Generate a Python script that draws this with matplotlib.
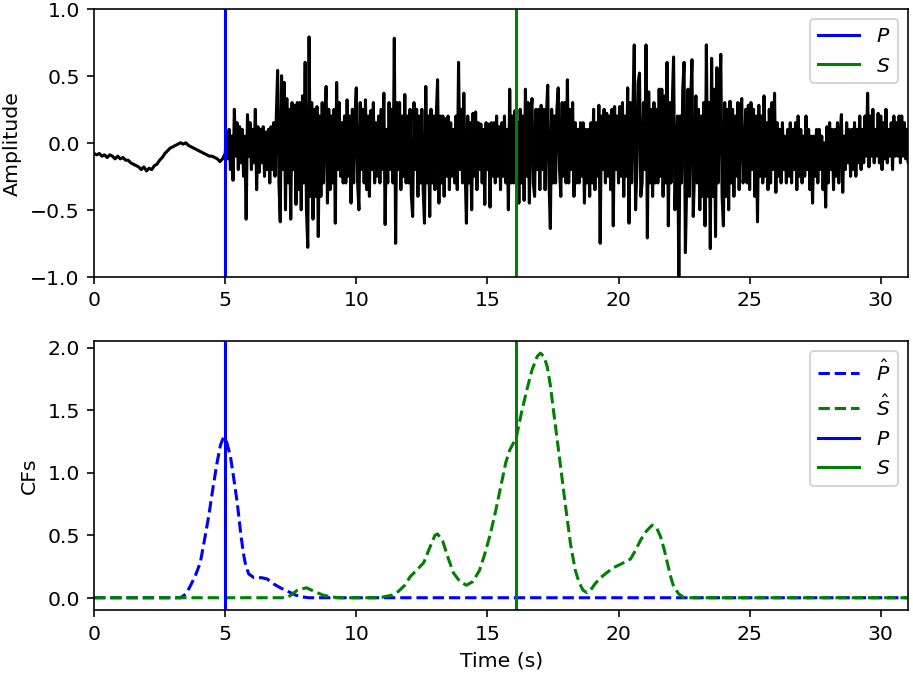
import numpy as np
import matplotlib
matplotlib.use("Agg")
import matplotlib.pyplot as plt

plt.rcParams['font.family'] = ['DejaVu Sans']

# ---- data ----
pre_dt = 0.1    # spacing of hand-read pre-event samples (s)
post_dt = 0.05  # spacing of hand-read post-event samples (s)
post_start = 5.0

pre_event = [
    -0.08, -0.09, -0.08, -0.10, -0.09, -0.11, -0.09, -0.10, -0.12, -0.10,
    -0.12, -0.11, -0.13, -0.13, -0.15, -0.16, -0.17, -0.18, -0.20, -0.18,
    -0.21, -0.19, -0.20, -0.17, -0.16, -0.13, -0.11, -0.08, -0.06, -0.04,
    -0.03, -0.02, -0.01, 0.00, -0.01, 0.00, -0.02, -0.03, -0.04, -0.05,
    -0.06, -0.07, -0.08, -0.09, -0.10, -0.10, -0.11, -0.12, -0.14, -0.12,
]
post_event = [
    # 5 s
    -0.08, 0.05, -0.12, 0.10, -0.20, 0.05, -0.28, 0.25, -0.10, 0.15, -0.20, 0.12, -0.15, 0.10, -0.25, 0.05, -0.57, 0.21, -0.10, 0.15,
    # 6 s
    -0.20, 0.10, -0.15, 0.25, -0.35, 0.12, -0.22, 0.10, -0.15, 0.12, -0.25, 0.08, -0.20, 0.10, -0.30, 0.12, -0.20, 0.15, -0.25, 0.20,
    # 7 s
    0.54, -0.30, -0.59, 0.50, -0.20, 0.45, -0.50, 0.33, -0.30, 0.25, -0.57, 0.30, -0.20, 0.28, -0.46, 0.30, -0.35, 0.30, -0.50, 0.35,
    # 8 s
    -0.30, 0.60, -0.50, -0.78, 0.79, -0.40, 0.30, -0.57, 0.25, -0.40, 0.27, -0.70, 0.20, -0.40, 0.30, -0.30, 0.20, 0.42, -0.45, 0.25,
    # 9 s
    -0.35, 0.20, -0.30, 0.25, -0.60, 0.45, -0.20, 0.30, -0.25, 0.15, -0.30, 0.20, -0.30, 0.32, -0.25, 0.20, -0.45, 0.25, -0.30, 0.20,
    # 10 s
    0.41, -0.30, -0.50, 0.30, -0.20, 0.25, -0.30, 0.32, -0.35, 0.20, -0.40, 0.24, -0.20, 0.30, -0.30, 0.15, -0.25, 0.20, -0.30, 0.25,
    # 11 s
    -0.20, 0.37, -0.61, 0.10, -0.30, 0.30, -0.20, 0.25, -0.30, 0.78, -0.75, 0.30, -0.20, 0.30, -0.35, 0.20, -0.25, 0.36, -0.30, 0.20,
    # 12 s
    -0.30, 0.25, -0.40, -0.55, 0.30, -0.20, 0.25, -0.40, 0.20, -0.30, 0.25, -0.35, -0.60, 0.42, -0.30, 0.20, -0.55, 0.25, -0.30, 0.20,
    # 13 s
    -0.35, 0.20, 0.47, -0.45, 0.20, -0.30, 0.20, -0.40, 0.18, -0.25, 0.20, -0.35, 0.15, -0.25, 0.10, -0.30, 0.20, -0.35, 0.60, -0.20,
    # 14 s
    0.25, -0.30, 0.37, -0.20, -0.60, 0.20, -0.30, 0.15, -0.50, 0.22, -0.25, 0.23, -0.35, 0.15, -0.20, 0.14, -0.30, 0.10, -0.46, 0.15,
    # 15 s
    -0.20, 0.14, -0.48, 0.15, -0.25, 0.15, -0.30, 0.20, -0.25, 0.12, -0.35, 0.15, -0.25, 0.20, -0.30, 0.10, -0.50, 0.40, -0.30, 0.20,
    # 16 s
    -0.30, 0.24, -0.20, 0.15, -0.45, 0.25, -0.30, 0.20, -0.43, 0.40, -0.25, 0.30, -0.45, 0.20, 0.33, -0.30, -0.40, 0.25, -0.20, 0.25,
    # 17 s
    -0.35, 0.28, -0.20, 0.25, -0.35, 0.20, 0.43, -0.30, -0.64, 0.25, -0.30, 0.20, -0.30, 0.25, 0.41, -0.20, -0.40, 0.30, -0.25, 0.30,
    # 18 s
    -0.30, 0.47, -0.30, 0.25, -0.20, 0.30, -0.40, 0.15, -0.30, 0.10, -0.30, 0.15, -0.25, 0.15, -0.45, 0.10, -0.30, 0.10, -0.40, 0.15,
    # 19 s
    -0.30, 0.25, -0.35, 0.15, -0.25, 0.28, -0.75, 0.20, -0.20, 0.25, -0.30, 0.22, -0.25, 0.20, -0.35, 0.25, -0.62, 0.27, -0.20, 0.20,
    # 20 s
    -0.30, 0.27, -0.25, 0.30, -0.40, 0.20, -0.25, 0.41, -0.60, 0.30, -0.30, 0.25, 0.73, -0.50, -0.20, 0.45, 0.52, -0.40, -0.30, 0.30,
    # 21 s
    -0.20, 0.73, -0.71, 0.38, -0.30, 0.25, -0.40, 0.30, -0.30, 0.25, -0.30, 0.40, -0.25, 0.40, -0.40, 0.35, -0.30, 0.60, -0.62, 0.30,
    # 22 s
    -0.30, 0.30, 0.64, -0.50, -0.20, 0.20, -1.05, 0.20, -0.30, 0.40, 0.60, -0.82, -0.30, 0.40, -0.40, 0.30, 0.62, -0.55, -0.20, 0.35,
    # 23 s
    -0.30, 0.25, -0.50, 0.20, -0.40, 0.30, -0.62, 0.73, -0.40, 0.30, -0.79, 0.63, -0.40, 0.40, -0.70, 0.56, -0.30, 0.30, 0.66, -0.40,
    # 24 s
    -0.62, 0.30, -0.40, 0.25, -0.50, 0.31, -0.30, 0.25, -0.40, 0.20, -0.25, 0.30, -0.35, 0.25, 0.33, -0.30, -0.20, 0.25, -0.30, 0.28,
    # 25 s
    -0.35, 0.30, -0.20, 0.25, -0.40, 0.20, -0.59, 0.28, -0.25, 0.20, -0.30, 0.35, -0.25, 0.15, -0.35, 0.25, -0.30, 0.30, -0.20, 0.37,
    # 26 s
    -0.37, 0.15, -0.25, 0.10, -0.30, 0.15, -0.20, 0.05, -0.30, 0.10, -0.25, 0.15, -0.30, 0.10, -0.20, 0.15, -0.35, 0.20, -0.25, 0.10,
    # 27 s
    -0.30, 0.05, -0.25, 0.20, -0.20, 0.10, -0.35, 0.05, -0.45, 0.05, -0.25, 0.10, -0.30, 0.10, -0.20, 0.05, -0.35, 0.00, -0.48, 0.12,
    # 28 s
    -0.30, 0.15, -0.20, 0.10, -0.35, 0.10, -0.25, 0.15, -0.30, 0.05, 0.21, -0.37, 0.05, -0.20, 0.15, -0.15, 0.10, -0.25, 0.10, -0.20,
    # 29 s
    0.15, -0.25, 0.10, -0.15, 0.20, -0.20, 0.10, -0.15, 0.20, -0.10, 0.37, -0.18, 0.20, -0.10, 0.25, -0.15, 0.10, -0.10, 0.22, -0.15,
    # 30 s
    0.20, -0.20, 0.15, -0.12, 0.25, -0.15, 0.10, -0.10, 0.15, -0.20, 0.20, -0.10, 0.15, -0.10, 0.20, -0.15, 0.20, -0.10, 0.15, -0.12,
    # 31 s
    0.10, -0.15, 0.12,
]

p_cf_t = [0.0, 3.3, 3.5, 3.66, 3.85, 4.05, 4.2, 4.37, 4.55, 4.69, 4.82, 4.93, 5.05, 5.2, 5.33, 5.46,
          5.6, 5.7, 5.78, 5.9, 6.1, 6.4, 6.6, 6.85, 7.1, 7.4, 7.7, 8.0, 8.2, 31.1]
p_cf_v = [0.0, 0.0, 0.03, 0.09, 0.17, 0.28, 0.45, 0.65, 0.9, 1.08, 1.22, 1.28, 1.25, 1.13, 0.95, 0.76,
          0.5, 0.35, 0.26, 0.19, 0.16, 0.16, 0.15, 0.11, 0.08, 0.05, 0.02, 0.005, 0.0, 0.0]

s_cf_t = [0.0, 7.36, 7.5, 7.75, 8.1, 8.4, 8.75, 9.1, 9.4, 10.7, 11.0, 11.35, 11.6, 11.85, 12.06, 12.3,
          12.57, 12.8, 13.0, 13.1, 13.3, 13.5, 13.7, 13.95, 14.2, 14.45, 14.7, 14.9, 15.1, 15.3, 15.5,
          15.7, 15.85, 16.0, 16.1, 16.3, 16.5, 16.7, 16.9, 17.02, 17.15, 17.28, 17.4, 17.53, 17.7,
          17.85, 18.0, 18.17, 18.35, 18.5, 18.65, 18.8, 18.93, 19.1, 19.31, 19.55, 19.8, 20.1, 20.46,
          20.65, 20.84, 21.05, 21.28, 21.45, 21.6, 21.75, 21.86, 22.0, 22.1, 22.3, 22.5, 31.1]
s_cf_v = [0.0, 0.0, 0.02, 0.06, 0.08, 0.05, 0.02, 0.005, 0.0, 0.0, 0.005, 0.02, 0.05, 0.1, 0.17, 0.22,
          0.28, 0.4, 0.5, 0.51, 0.45, 0.32, 0.2, 0.13, 0.1, 0.13, 0.22, 0.35, 0.5, 0.68, 0.88,
          1.08, 1.18, 1.24, 1.28, 1.48, 1.66, 1.82, 1.93, 1.956, 1.93, 1.85, 1.7, 1.48, 1.2,
          0.95, 0.7, 0.43, 0.22, 0.12, 0.06, 0.04, 0.06, 0.11, 0.16, 0.2, 0.24, 0.27, 0.31,
          0.38, 0.46, 0.53, 0.58, 0.56, 0.49, 0.38, 0.28, 0.16, 0.09, 0.03, 0.0, 0.0]

p_pick = 5.0
s_pick = 16.1
x_max = 31.05

# ---- plot ----
t_pre = np.arange(len(pre_event)) * pre_dt
t_post = post_start + np.arange(len(post_event)) * post_dt
t = np.concatenate([t_pre, t_post])
amp = np.array(pre_event + post_event)

DPI = 147
fig = plt.figure(figsize=(913.3 / DPI, 673.3 / DPI), dpi=DPI)
ax1 = fig.add_axes([0.103, 0.5884, 0.8915, 0.3982])
ax2 = fig.add_axes([0.103, 0.0936, 0.8915, 0.3997])

ax1.plot(t, amp, color='black', lw=1.5)
ax1.axvline(p_pick, color='blue', lw=1.5, label='$P$')
ax1.axvline(s_pick, color='green', lw=1.5, label='$S$')
ax1.set_xlim(0, x_max)
ax1.set_ylim(-1, 1)
ax1.set_yticks([-1.0, -0.5, 0.0, 0.5, 1.0])
ax1.set_ylabel('Amplitude')
ax1.legend(loc='upper right')

ax2.plot(p_cf_t, p_cf_v, '--', color='blue', lw=1.5, label=r'$\hat{P}$')
ax2.plot(s_cf_t, s_cf_v, '--', color='green', lw=1.5, label=r'$\hat{S}$')
ax2.axvline(p_pick, color='blue', lw=1.5, label='$P$')
ax2.axvline(s_pick, color='green', lw=1.5, label='$S$')
ax2.set_xlim(0, x_max)
ax2.set_ylim(-0.0978, 2.054)
ax2.set_yticks([0.0, 0.5, 1.0, 1.5, 2.0])
ax2.set_xlabel('Time (s)')
ax2.set_ylabel('CFs')
ax2.legend(loc='upper right')

fig.savefig('out.png', dpi=DPI)
